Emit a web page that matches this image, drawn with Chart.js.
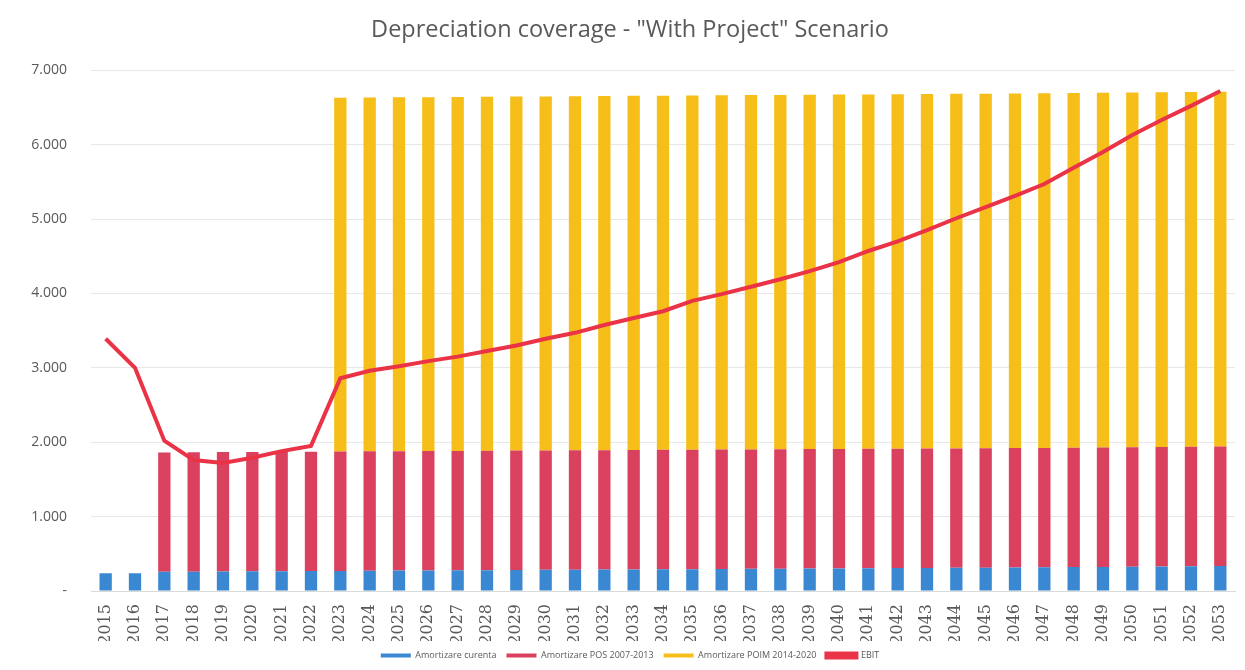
<!DOCTYPE html>
<html>
<head>
<meta charset="utf-8">
<script src="https://cdn.jsdelivr.net/npm/chart.js@4"></script>
<style>
  body { margin: 0; background: #fff; }
  #wrap { width: 1245px; height: 670px; }
</style>
</head>
<body>
<div id="wrap"><canvas id="myChart" width="1245" height="670"></canvas></div>
<script>
// years on the x axis
const years = [
  "2015", "2016", "2017", "2018", "2019", "2020", "2021", "2022", "2023", "2024",
  "2025", "2026", "2027", "2028", "2029", "2030", "2031", "2032", "2033", "2034",
  "2035", "2036", "2037", "2038", "2039", "2040", "2041", "2042", "2043", "2044",
  "2045", "2046", "2047", "2048", "2049", "2050", "2051", "2052", "2053"
];

// Amortizare curenta (blue)
const amortCurenta = [
  240, 240, 258, 260, 262, 264, 266, 268, 270, 272,
  274, 276, 278, 280, 282, 284, 286, 288, 290, 292,
  294, 296, 298, 300, 302, 304, 306, 308, 310, 312,
  314, 316, 318, 321, 324, 327, 330, 333, 336
];

// Amortizare POS 2007-2013 (red)
const amortPOS = [
  0, 0, 1605, 1605, 1605, 1605, 1605, 1605, 1605, 1605,
  1605, 1605, 1605, 1605, 1605, 1605, 1605, 1605, 1605, 1605,
  1605, 1605, 1605, 1605, 1605, 1605, 1605, 1605, 1605, 1605,
  1605, 1605, 1605, 1605, 1605, 1605, 1605, 1605, 1605
];

// Amortizare POIM 2014-2020 (yellow)
const amortPOIM = [
  0, 0, 0, 0, 0, 0, 0, 0, 4755, 4755,
  4756, 4756, 4757, 4757, 4758, 4758, 4759, 4759, 4760, 4760,
  4761, 4761, 4762, 4762, 4763, 4763, 4764, 4764, 4765, 4765,
  4766, 4766, 4767, 4767, 4768, 4768, 4769, 4769, 4770
];

// EBIT line
const ebit = [
  3390, 3000, 2020, 1760, 1720, 1790, 1880, 1950, 2860, 2960,
  3020, 3090, 3150, 3225, 3300, 3390, 3470, 3575, 3670, 3760,
  3900, 3990, 4090, 4190, 4300, 4420, 4570, 4700, 4850, 5010,
  5160, 5310, 5470, 5690, 5900, 6130, 6330, 6520, 6720
];

const yTicks = [0, 1000, 2000, 3000, 4000, 5000, 6000, 7000];

const gray = "#595959";

const data = {
  labels: years,
  datasets: [
    {
      type: "line",
      label: "EBIT",
      data: ebit,
      borderColor: "#ea3346",
      backgroundColor: "#ea3346",
      borderWidth: 4,
      pointRadius: 0,
      tension: 0,
      stack: "line",
      order: 0,
    },
    {
      label: "Amortizare curenta",
      data: amortCurenta,
      backgroundColor: "#3a88d2",
      stack: "bars",
      order: 1,
    },
    {
      label: "Amortizare POS 2007-2013",
      data: amortPOS,
      backgroundColor: "#d9415f",
      stack: "bars",
      order: 1,
    },
    {
      label: "Amortizare POIM 2014-2020",
      data: amortPOIM,
      backgroundColor: "#f6be18",
      stack: "bars",
      order: 1,
    },
  ],
};

const config = {
  type: "bar",
  data,
  options: {
    responsive: false,
    animation: false,
    barPercentage: 0.42,
    categoryPercentage: 1,
    layout: { padding: { left: 25, right: 10, top: 0, bottom: 0 } },
    plugins: {
      title: {
        display: true,
        text: 'Depreciation coverage - "With Project" Scenario',
        color: gray,
        font: { family: "Open Sans", size: 23.5, weight: "normal" },
        padding: { top: 16, bottom: 26 },
      },
      legend: {
        position: "bottom",
        labels: {
          color: gray,
          font: { family: "Open Sans", size: 9 },
          boxWidth: 30,
          boxHeight: 4,
          padding: 10,
          // keep the bars first and the line last, as in the original
          sort: (a, b) => ((a.datasetIndex + 3) % 4) - ((b.datasetIndex + 3) % 4),
        },
      },
      tooltip: { enabled: false },
    },
    scales: {
      x: {
        stacked: true,
        grid: { display: false },
        border: { color: "#d9d9d9" },
        ticks: {
          color: gray,
          font: { family: "DejaVu Serif", size: 16 },
          minRotation: 90,
          maxRotation: 90,
          autoSkip: false,
          padding: 5,
        },
        afterFit: (scale) => { scale.height = 50; },
      },
      y: {
        stacked: true,
        min: 0,
        max: 7000,
        afterBuildTicks: (scale) => {
          scale.ticks = yTicks.map((v) => ({ value: v }));
        },
        grid: { color: "#e8e8e8", drawTicks: false },
        border: { display: false },
        ticks: {
          color: gray,
          font: { family: "Open Sans", size: 14 },
          padding: 24,
          callback: (v) => (v === 0 ? "-" : v / 1000 + ".000"),
        },
        afterFit: (scale) => { scale.width = 66; },
      },
    },
  },
};

new Chart(document.getElementById("myChart"), config);
</script>
</body>
</html>
